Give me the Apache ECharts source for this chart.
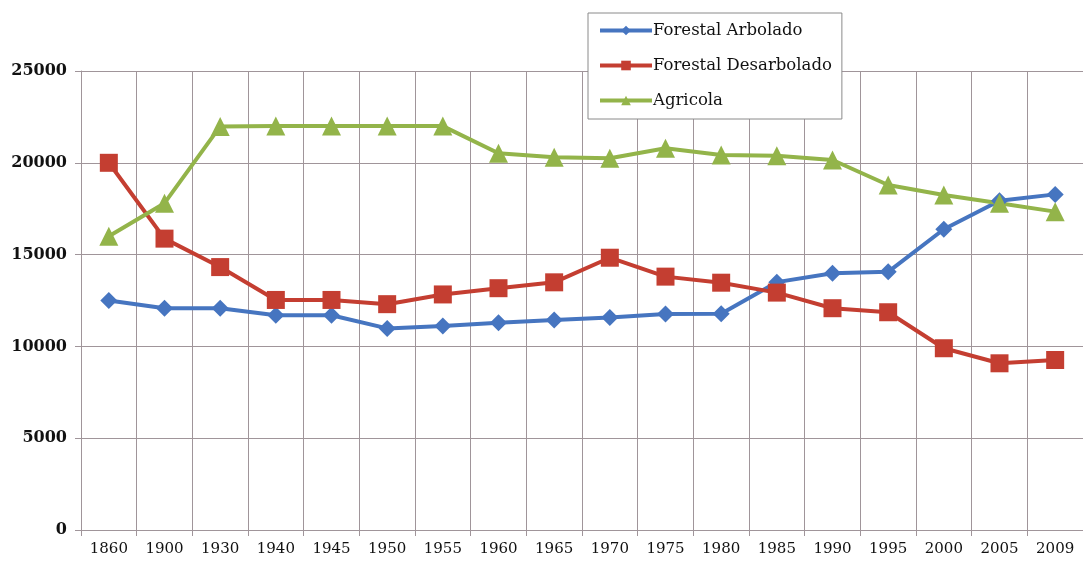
<!DOCTYPE html>
<html>
<head>
<meta charset="utf-8">
<script src="https://cdn.jsdelivr.net/npm/echarts@6/dist/echarts.min.js"></script>
<style>
  html, body { margin: 0; padding: 0; background: #fff; }
  #chart { width: 1083px; height: 561px; }
</style>
</head>
<body>
<div id="chart"></div>
<script>
  // años (categorías)
  const years = ['1860', '1900', '1930', '1940', '1945', '1950', '1955', '1960', '1965',
    '1970', '1975', '1980', '1985', '1990', '1995', '2000', '2005', '2009'];
  // superficies
  const arbolado = [12500, 12080, 12080, 11700, 11700, 10980, 11110, 11290, 11440,
    11580, 11760, 11780, 13500, 13980, 14060, 16380, 17930, 18280];
  const desarbolado = [20000, 15870, 14320, 12530, 12530, 12300, 12830, 13170, 13490,
    14830, 13800, 13470, 12930, 12080, 11860, 9900, 9080, 9260];
  const agricola = [16000, 17800, 21980, 22000, 22000, 22000, 22000, 20520, 20300,
    20250, 20790, 20430, 20390, 20150, 18790, 18250, 17800, 17340];

  const gridColor = '#a0959a';
  const serif = '"DejaVu Serif", "Liberation Serif", serif';

  let myChart = echarts.init(document.getElementById('chart'));

  function serie(name, data, color, symbol, size) {
    return {
      name: name,
      type: 'line',
      data: data,
      symbol: symbol,
      symbolSize: size,
      itemStyle: {color: color},
      lineStyle: {color: color, width: 4},
      emphasis: {disabled: true}
    };
  }

  let option = {
    animation: false,
    grid: {left: 81, top: 71, width: 1008, height: 459},
    legend: {
      orient: 'vertical',
      left: 588,
      top: 13,
      padding: [9, 10, 10, 10],
      itemGap: 18,
      itemWidth: 52,
      itemHeight: 12,
      borderColor: '#8a8a8a',
      borderWidth: 1,
      backgroundColor: '#fff',
      lineStyle: {width: 4},
      textStyle: {fontFamily: serif, fontSize: 16.5, color: '#111', padding: [0, 0, 0, -4]},
      data: ['Forestal Arbolado', 'Forestal Desarbolado', 'Agricola']
    },
    xAxis: {
      type: 'category',
      data: years,
      boundaryGap: true,
      axisLine: {lineStyle: {color: gridColor}},
      axisTick: {show: true, length: 6, lineStyle: {color: gridColor}},
      splitLine: {show: true, lineStyle: {color: gridColor, width: 1}},
      axisLabel: {fontFamily: serif, fontSize: 15, color: '#111', margin: 12, interval: 0}
    },
    yAxis: {
      type: 'value',
      min: 0,
      max: 25000,
      interval: 5000,
      axisLine: {show: true, lineStyle: {color: gridColor}},
      axisTick: {show: true, length: 6, lineStyle: {color: gridColor}},
      splitLine: {lineStyle: {color: gridColor, width: 1}},
      axisLabel: {
        fontFamily: serif, fontSize: 16, fontWeight: 'bold', color: '#111', margin: 14,
        formatter: function (v) { return String(v); }
      }
    },
    series: [
      serie('Forestal Arbolado', arbolado, '#4675c0', 'diamond', 17),
      serie('Forestal Desarbolado', desarbolado, '#c43e31', 'rect', 18),
      serie('Agricola', agricola, '#93b44a', 'triangle', 19)
    ]
  };
  myChart.setOption(option);
</script>
</body>
</html>
